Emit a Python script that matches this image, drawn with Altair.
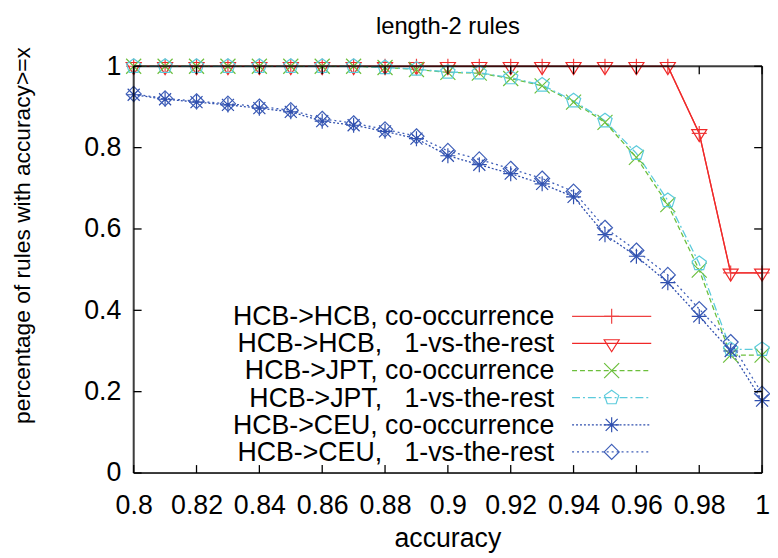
import altair as alt
import pandas as pd

# ---------------- data ----------------
accuracy = [0.80, 0.81, 0.82, 0.83, 0.84, 0.85, 0.86, 0.87, 0.88, 0.89, 0.90,
            0.91, 0.92, 0.93, 0.94, 0.95, 0.96, 0.97, 0.98, 0.99, 1.00]

hcb_cooc = [1.0, 1.0, 1.0, 1.0, 1.0, 1.0, 1.0, 1.0, 1.0, 1.0, 1.0,
            1.0, 1.0, 1.0, 1.0, 1.0, 1.0, 1.0, 0.835, 0.492, 0.492]
hcb_1vr = [1.0, 1.0, 1.0, 1.0, 1.0, 1.0, 1.0, 1.0, 1.0, 1.0, 1.0,
           1.0, 1.0, 1.0, 1.0, 1.0, 1.0, 1.0, 0.835, 0.492, 0.492]
jpt_cooc = [1.0, 1.0, 1.0, 1.0, 1.0, 1.0, 1.0, 1.0, 0.997, 0.992, 0.985,
            0.983, 0.970, 0.952, 0.912, 0.862, 0.776, 0.660, 0.499, 0.290, 0.290]
jpt_1vr = [1.0, 1.0, 1.0, 1.0, 1.0, 1.0, 1.0, 1.0, 0.997, 0.993, 0.986,
           0.984, 0.972, 0.954, 0.915, 0.866, 0.786, 0.670, 0.515, 0.304, 0.304]
ceu_cooc = [0.930, 0.919, 0.912, 0.905, 0.897, 0.888, 0.865, 0.855, 0.840, 0.822, 0.780,
            0.758, 0.736, 0.711, 0.679, 0.586, 0.533, 0.468, 0.385, 0.300, 0.178]
ceu_1vr = [0.932, 0.921, 0.914, 0.908, 0.901, 0.892, 0.871, 0.860, 0.845, 0.828, 0.792,
           0.771, 0.748, 0.724, 0.692, 0.603, 0.547, 0.487, 0.403, 0.322, 0.195]

NB = "\u00a0"
series_names = [
    "HCB->HCB, co-occurrence",
    "HCB->HCB," + NB * 3 + "1-vs-the-rest",
    "HCB->JPT, co-occurrence",
    "HCB->JPT," + NB * 3 + "1-vs-the-rest",
    "HCB->CEU, co-occurrence",
    "HCB->CEU," + NB * 3 + "1-vs-the-rest",
]
series_values = [hcb_cooc, hcb_1vr, jpt_cooc, jpt_1vr, ceu_cooc, ceu_1vr]

x_ticks = [0.80, 0.82, 0.84, 0.86, 0.88, 0.90, 0.92, 0.94, 0.96, 0.98, 1.00]
y_ticks = [0.0, 0.2, 0.4, 0.6, 0.8, 1.0]

chart_title = "length-2 rules"
x_title = "accuracy"
y_title = "percentage of rules with accuracy>=x"

# ---------------- styles ----------------
colors = ["#ee4040", "#f02828", "#6cbf3c", "#5ccbdc", "#2f4fae", "#3f5fb8"]
dashes = [[1, 0], [1, 0], [5, 3], [8, 3, 2, 3], [2, 2], [2, 3]]
pent = "M0,-1L0.951,-0.309L0.588,0.809L-0.588,0.809L-0.951,-0.309Z"
shapes = [
    "M-1,0L1,0M0,-1L0,1",
    "M-1,-0.5L1,-0.5L0,1.1Z",
    "M-1,-1L1,1M-1,1L1,-1",
    pent,
    "M-1,0L1,0M0,-1L0,1M-0.8,-0.8L0.8,0.8M-0.8,0.8L0.8,-0.8",
    "M0,-1L1,0L0,1L-1,0Z",
]

FONT = "Liberation Sans"
W, H = 635, 411

rows = []
for i, (name, vals) in enumerate(zip(series_names, series_values)):
    for xv, yv in zip(accuracy, vals):
        rows.append({"series": name, "order": i, "accuracy": xv, "value": yv})
df = pd.DataFrame(rows)

color_enc = alt.Color("series:N", scale=alt.Scale(domain=series_names, range=colors), legend=None)
dash_enc = alt.StrokeDash("series:N", scale=alt.Scale(domain=series_names, range=dashes), legend=None)
shape_enc = alt.Shape("series:N", scale=alt.Scale(domain=series_names, range=shapes), legend=None)

xscale = alt.Scale(domain=[0.8, 1.0], nice=False, zero=False)
yscale = alt.Scale(domain=[0.0, 1.0], nice=False)

x_main = alt.X(
    "accuracy:Q", scale=xscale,
    axis=alt.Axis(values=x_ticks, format="~g", title=None, labelFontSize=27,
                  tickSize=0, domain=False, grid=False, labelPadding=20,
                  labelFlush=False, labelOverlap=False, labelColor="black", labelFont=FONT),
)
y_main = alt.Y(
    "value:Q", scale=yscale,
    axis=alt.Axis(values=y_ticks, format="~g", title=None, labelFontSize=27,
                  tickSize=0, domain=False, grid=False, labelPadding=13,
                  labelFlush=False, labelOverlap=False, labelColor="black", labelFont=FONT),
)

base = alt.Chart(df)
lines = base.mark_line(strokeWidth=1.3).encode(
    x=x_main, y=y_main, color=color_enc, strokeDash=dash_enc, detail="series:N",
    order="accuracy:Q",
)
points = base.mark_point(filled=False, size=230, strokeWidth=1.2, opacity=1).encode(
    x=alt.X("accuracy:Q", scale=xscale, title=None),
    y=alt.Y("value:Q", scale=yscale, title=None),
    color=color_enc, shape=shape_enc,
)

# ---------------- legend (inside plot) ----------------
legend_top_px = 252.7
legend_step_px = 27.4
leg = pd.DataFrame({
    "series": series_names,
    "label": series_names,
    "ly": [1 - (legend_top_px + i * legend_step_px) / H for i in range(len(series_names))],
})
leg_base = alt.Chart(leg)
ly_enc = alt.Y("ly:Q", scale=yscale, title=None)
leg_text = leg_base.mark_text(align="right", baseline="middle", fontSize=27, font=FONT,
                              color="black", dy=1).encode(
    x=alt.value(425), y=ly_enc, text="label:N")
leg_line = leg_base.mark_rule(strokeWidth=1.3).encode(
    x=alt.value(443), x2=alt.value(523), y=ly_enc, color=color_enc, strokeDash=dash_enc)
leg_pt = leg_base.mark_point(filled=False, size=230, strokeWidth=1.2, opacity=1).encode(
    x=alt.value(483), y=ly_enc, color=color_enc, shape=shape_enc)

# ---------------- titles as text marks ----------------
tdf = alt.Chart(pd.DataFrame({"t": [chart_title], "xt": [x_title], "yt": [y_title]}))
title_mark = tdf.mark_text(fontSize=24, font=FONT, color="black", align="center",
                           baseline="alphabetic").encode(
    x=alt.value(W / 2), y=alt.value(-33), text="t:N")
xtitle_mark = tdf.mark_text(fontSize=27, font=FONT, color="black", align="center",
                            baseline="alphabetic").encode(
    x=alt.value(W / 2), y=alt.value(H + 75), text="xt:N")
ytitle_mark = tdf.mark_text(fontSize=23, font=FONT, color="black", align="center",
                            baseline="alphabetic", angle=270).encode(
    x=alt.value(-105), y=alt.value(171), text="yt:N")

# ---------------- inward ticks and frame ----------------
xt = alt.Chart(pd.DataFrame({"xt": x_ticks}))
yt = alt.Chart(pd.DataFrame({"yt": y_ticks}))
xt_enc = alt.X("xt:Q", scale=xscale, title=None)
yt_enc = alt.Y("yt:Q", scale=yscale, title=None)
tick_style = dict(color="black", strokeWidth=1.3)
xt_bottom = xt.mark_rule(**tick_style).encode(x=xt_enc, y=alt.value(H), y2=alt.value(H - 8))
xt_top = xt.mark_rule(**tick_style).encode(x=xt_enc, y=alt.value(0), y2=alt.value(8))
yt_left = yt.mark_rule(**tick_style).encode(y=yt_enc, x=alt.value(0), x2=alt.value(8))
yt_right = yt.mark_rule(**tick_style).encode(y=yt_enc, x=alt.value(W - 8), x2=alt.value(W))

frame_style = dict(color="black", strokeWidth=2, opacity=0.75)
fr = alt.Chart(pd.DataFrame({"k": [0]}))
f_top = fr.mark_rule(**frame_style).encode(x=alt.value(0), x2=alt.value(W), y=alt.value(0))
f_bot = fr.mark_rule(**frame_style).encode(x=alt.value(0), x2=alt.value(W), y=alt.value(H))
f_left = fr.mark_rule(**frame_style).encode(y=alt.value(0), y2=alt.value(H), x=alt.value(0))
f_right = fr.mark_rule(**frame_style).encode(y=alt.value(0), y2=alt.value(H), x=alt.value(W))

chart = alt.layer(
    lines, points, leg_line, leg_pt, leg_text,
    xt_bottom, xt_top, yt_left, yt_right,
    f_top, f_bot, f_left, f_right,
    title_mark, xtitle_mark, ytitle_mark,
).properties(
    width=W, height=H,
    autosize=alt.AutoSizeParams(type="none"),
    padding={"left": 127, "top": 56, "right": 8, "bottom": 84},
).configure_view(stroke=None).configure(background="white")

chart.save("out.html", embed_options={"renderer": "svg", "actions": False})
